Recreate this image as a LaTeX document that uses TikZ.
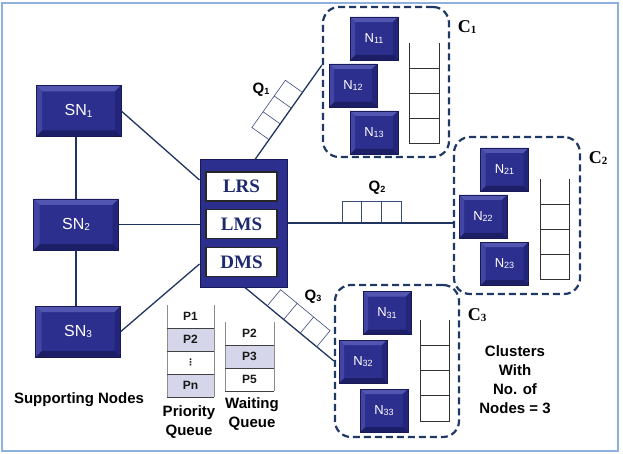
\documentclass[tikz,border=0pt]{standalone}
\usepackage{fontspec}
\setmainfont{Liberation Sans}
\newfontfamily\serifbf{Liberation Serif}
\newfontfamily\dejavu{DejaVu Sans}
\usetikzlibrary{calc}
\definecolor{face}{HTML}{2D2F8E}
\definecolor{bvtop}{HTML}{5256B0}
\definecolor{bvleft}{HTML}{4246A2}
\definecolor{bvbot}{HTML}{1C1E66}
\definecolor{bvright}{HTML}{23257A}
\definecolor{outl}{HTML}{181A58}
\definecolor{linecol}{HTML}{1F3560}
\definecolor{dashcol}{HTML}{1F3864}
\definecolor{textnavy}{HTML}{1F2A6E}
\definecolor{framecol}{HTML}{8DB0DC}
\definecolor{lav}{HTML}{D6D6EA}
\definecolor{qcol}{HTML}{3A4A7A}
\newcommand\subs[2][9]{\raisebox{-1.2pt}{\fontsize{#1}{#1}\selectfont #2}}
\newcommand\bevelpic[1]{%
  \coordinate (pa) at (path picture bounding box.north west);
  \coordinate (pb) at (path picture bounding box.north east);
  \coordinate (pc) at (path picture bounding box.south east);
  \coordinate (pd) at (path picture bounding box.south west);
  \fill[bvtop] (pa) -- (pb) -- ([shift={(-#1,-#1)}]pb) -- ([shift={(#1,-#1)}]pa) -- cycle;
  \fill[bvright] (pb) -- (pc) -- ([shift={(-#1,#1)}]pc) -- ([shift={(-#1,-#1)}]pb) -- cycle;
  \fill[bvbot] (pc) -- (pd) -- ([shift={(#1,#1)}]pd) -- ([shift={(-#1,#1)}]pc) -- cycle;
  \fill[bvleft] (pd) -- (pa) -- ([shift={(#1,-#1)}]pa) -- ([shift={(#1,#1)}]pd) -- cycle;
}
\newcommand\stackshape[5]{% x0 x1 ytop dy n
  \draw[stk] (#1,#3) -- (#1,#3+#4*#5) -- (#2,#3+#4*#5) -- (#2,#3);
  \foreach \k in {1,...,#5} {\draw[stk] (#1,#3+#4*\k) -- (#2,#3+#4*\k);}
}
\tikzset{
  bev/.style={rectangle, draw=outl, line width=0.6pt, fill=face, text=white, inner sep=0pt,
    path picture={\bevelpic{#1}}},
  sn/.style={bev=6pt, minimum width=85pt, minimum height=51pt, font=\fontsize{16}{16}\selectfont},
  nn/.style={bev=5pt, minimum width=48pt, minimum height=43pt, font=\fontsize{13}{13}\selectfont},
  svc/.style={rectangle, fill=white, draw=black!85, line width=1.2pt, minimum width=71pt,
    minimum height=29pt, inner sep=0pt, text=textnavy, font=\serifbf\bfseries\fontsize{19}{19}\selectfont},
  conn/.style={draw=linecol, line width=1.3pt},
  cluster/.style={draw=dashcol, line width=2.2pt, dash pattern=on 7pt off 4pt, rounded corners=16pt, inner sep=0pt},
  clab/.style={font=\serifbf\bfseries\fontsize{18}{18}\selectfont, inner sep=0pt},
  qlab/.style={font=\bfseries\fontsize{15}{15}\selectfont, inner sep=0pt},
  qcell/.style={draw=qcol, line width=0.6pt},
  stk/.style={draw=black!80, line width=0.8pt},
  txt/.style={font=\bfseries\fontsize{15}{19}\selectfont, align=center, inner sep=0pt},
  cell/.style={font=\bfseries\fontsize{12}{12}\selectfont, inner sep=0pt, text=black!90},
}
\begin{document}
\begin{tikzpicture}[x=1pt,y=-1pt]
\useasboundingbox (0,0) rectangle (623,454);
\draw[framecol, line width=2pt] (2,3) rectangle (618,451);

% clusters
\node[cluster, minimum width=126pt, minimum height=150pt] (C1b) at (386,82) {};
\node[cluster, minimum width=126pt, minimum height=157pt] (C2b) at (517,215.5) {};
\node[cluster, minimum width=124pt, minimum height=152pt] (C3b) at (397,361) {};
\node[clab] (C1l) at (467,27) {C\subs[11]{1}};
\node[clab] (C2l) at (598,158) {C\subs[11]{2}};
\node[clab] (C3l) at (477,315) {C\subs[11]{3}};

% cluster nodes
\node[nn] (N11) at (374,38.5) {N\subs{11}};
\node[nn] (N12) at (353,85.5) {N\subs{12}};
\node[nn] (N13) at (374,132.5) {N\subs{13}};
\node[nn] (N21) at (504.5,169.5) {N\subs{21}};
\node[nn] (N22) at (483,216.5) {N\subs{22}};
\node[nn] (N23) at (504.5,263.5) {N\subs{23}};
\node[nn] (N31) at (387,313) {N\subs{31}};
\node[nn] (N32) at (363,361.5) {N\subs{32}};
\node[nn] (N33) at (384,410.5) {N\subs{33}};

\stackshape{409}{439}{43}{25}{4}
\stackshape{540}{569}{179}{25}{4}
\stackshape{420}{449}{320}{25.25}{4}

% supporting nodes
\node[sn] (SN1) at (78.5,111) {SN\subs[10]{1}};
\node[sn] (SN2) at (76,224.5) {SN\subs[10]{2}};
\node[sn] (SN3) at (78,331.5) {SN\subs[10]{3}};

% central box
\node[rectangle, fill=face, draw=outl, line width=1pt, minimum width=87pt, minimum height=127pt, inner sep=0pt] (CB) at (243.5,223.5) {};
\node[svc] (LRS) at (241.5,186.5) {LRS};
\node[svc] (LMS) at (241.5,224) {LMS};
\node[svc] (DMS) at (241.5,262) {DMS};

% connectors
\draw[conn] (SN1.south -| SN2.north) -- (SN2.north);
\draw[conn] (SN2.south) -- (SN2.south |- SN3.north);
\draw[conn] (SN1.east) -- ([yshift=43.5pt]CB.west);
\draw[conn] (SN2.east) -- (SN2.east -| CB.west);
\draw[conn] (SN3.east) -- ([yshift=-40.5pt]CB.west);

\coordinate (A1) at ([xshift=11.5pt]CB.north);
\coordinate (B1) at ([yshift=17pt]C1b.west);
\coordinate (A2) at ([yshift=0.5pt]CB.east);
\coordinate (B2) at (A2 -| C2b.west);
\coordinate (A3) at ([xshift=1.5pt]CB.south);
\coordinate (B3) at (C3b.west);
\draw[conn] (A1) -- (B1);
\draw[conn] (A2) -- (B2);
\draw[conn] (A3) -- (B3);

% queues on links
\foreach \t [count=\i] in {0.21,0.3767,0.5433,0.71} {
  \coordinate (q1l\i) at ($(A1)!\t!(B1)$);
  \coordinate (q1u\i) at ($(q1l\i)!21pt!90:(B1)$);
}
\foreach \t [count=\i] in {0.329,0.449,0.569,0.689} {
  \coordinate (q2l\i) at ($(A2)!\t!(B2)$);
  \coordinate (q2u\i) at ($(q2l\i)!22pt!90:(B2)$);
}
\foreach \t [count=\i] in {0.25,0.4357,0.6213,0.807} {
  \coordinate (q3l\i) at ($(A3)!\t!(B3)$);
  \coordinate (q3u\i) at ($(q3l\i)!21pt!90:(B3)$);
}
\foreach \q in {q1,q2,q3} {
  \draw[qcell] (\q l1) -- (\q u1) -- (\q u4) -- (\q l4);
  \draw[qcell] (\q l2) -- (\q u2);
  \draw[qcell] (\q l3) -- (\q u3);
}
\node[qlab] (Q1) at (261,90) {Q\subs[9]{1}};
\node[qlab] (Q2) at (377,188) {Q\subs[9]{2}};
\node[qlab] (Q3) at (313,297) {Q\subs[9]{3}};

% priority queue
\fill[lav] (167,328) rectangle (214,351);
\fill[lav] (167,374) rectangle (214,397);
\draw[draw=black!45, line width=0.8pt] (167,305) -- (167,397) (214,305) -- (214,397);
\foreach \y in {328,351,374,397} {\draw[draw=black!75, line width=0.9pt] (167,\y) -- (214,\y);}
\node[cell] (P1) at (190.5,316.5) {P1};
\node[cell] (P2) at (190.5,339.5) {P2};
\node[cell] (Pd) at (190.5,362.5) {\dejavu\fontsize{9}{9}\selectfont ⋮};
\node[cell] (Pn) at (190.5,385.5) {Pn};

% waiting queue
\fill[lav] (225,345) rectangle (274,368);
\draw[draw=black!45, line width=0.8pt] (225,322) -- (225,391) (274,322) -- (274,391);
\foreach \y in {345,368,391} {\draw[draw=black!75, line width=0.9pt] (225,\y) -- (274,\y);}
\node[cell] (W1) at (249.5,333.5) {P2};
\node[cell] (W2) at (249.5,356.5) {P3};
\node[cell] (W3) at (249.5,379.5) {P5};

% texts
\node[txt] (supp) at (79,400) {Supporting Nodes};
\node[txt] (pq) at (189,422.5) {Priority\\Queue};
\node[txt] (wq) at (252,414) {Waiting\\Queue};
\node[txt] (clt) at (515,380) {Clusters\\With\\No. of\\Nodes = 3};
\end{tikzpicture}
\end{document}
